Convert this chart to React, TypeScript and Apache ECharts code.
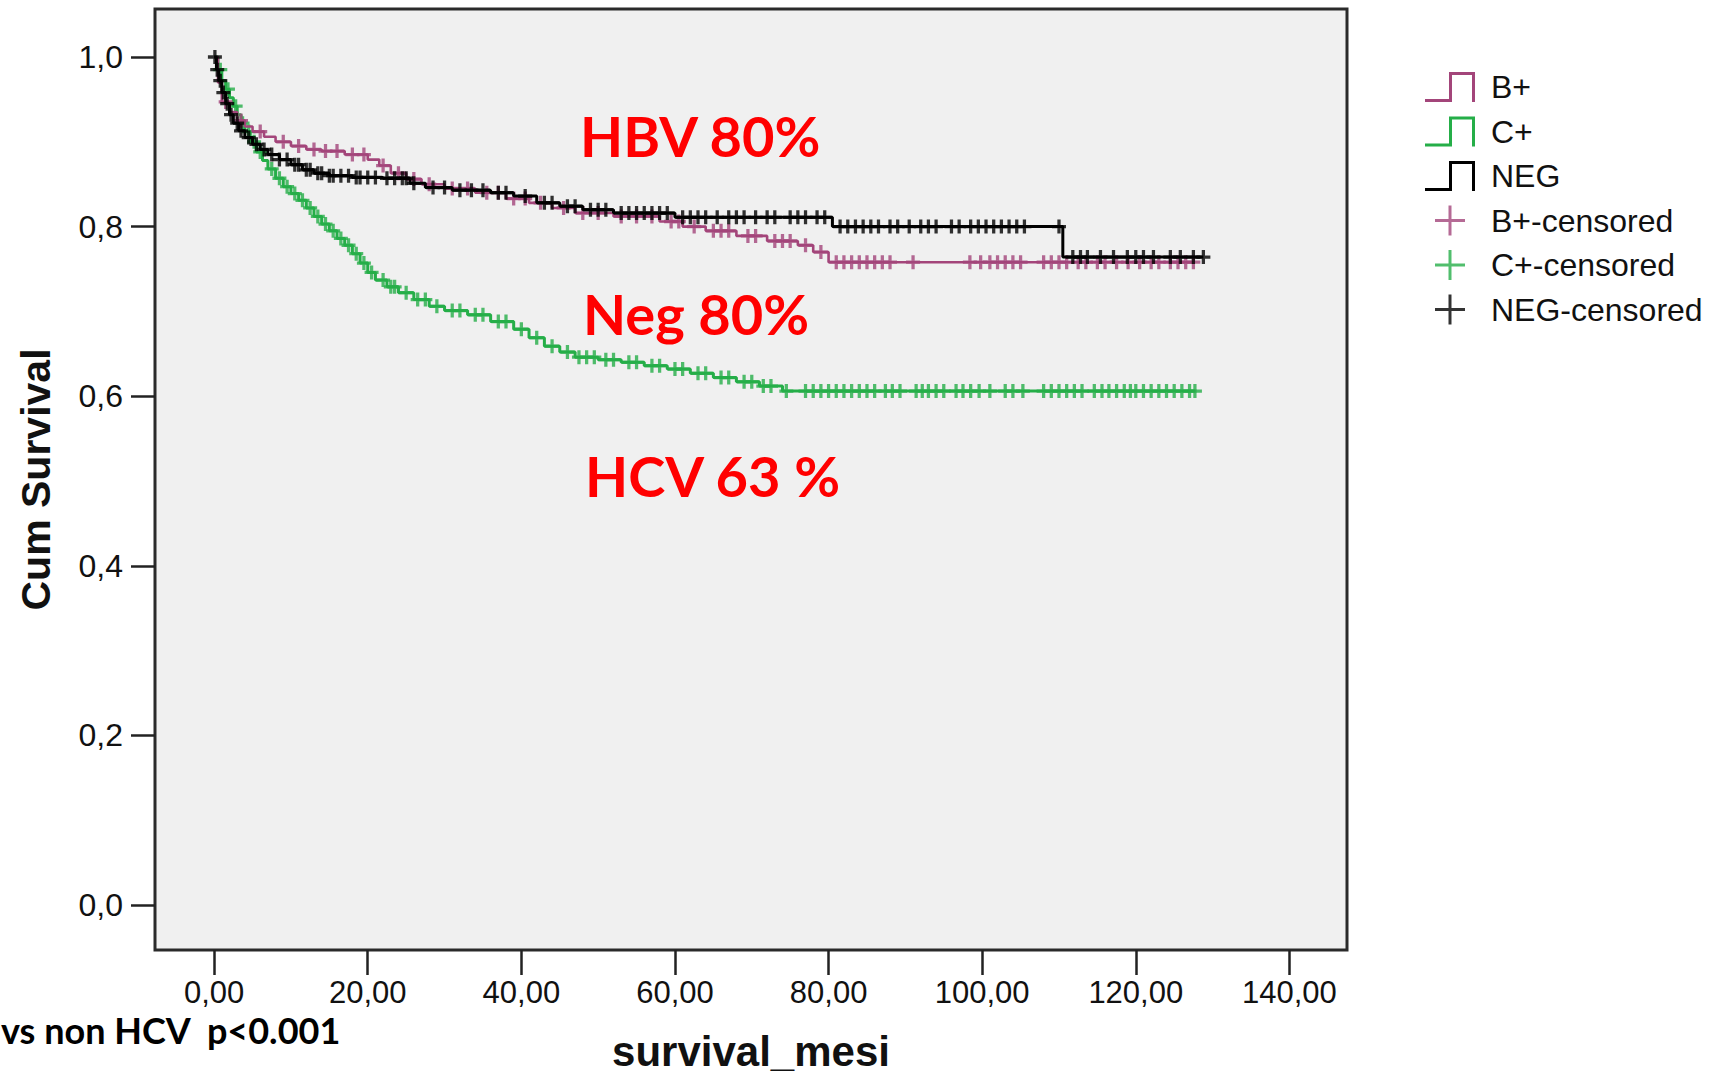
import React, { useEffect, useRef } from 'react';
import * as echarts from 'echarts';

// ---- axis ticks ----
const xTicks = [0, 20, 40, 60, 80, 100, 120, 140];
const yTicks = [0, 0.2, 0.4, 0.6, 0.8, 1.0];

// ---- B+ (HBV) Kaplan-Meier steps ----
const bPlusTimes = [0, 0.5, 1.0, 2.0, 3.0, 4.0, 5.0, 6.5, 8.0, 10, 12, 14, 17, 20, 21.5, 23, 25, 27, 30, 34, 38, 41, 44, 47, 52, 58, 61, 64, 68, 72, 76, 78, 80];
const bPlusSurv = [1.0, 0.97, 0.947, 0.935, 0.925, 0.918, 0.912, 0.906, 0.9, 0.895, 0.891, 0.889, 0.885, 0.879, 0.872, 0.863, 0.856, 0.85, 0.845, 0.84, 0.833, 0.828, 0.822, 0.816, 0.812, 0.806, 0.8, 0.795, 0.789, 0.783, 0.778, 0.77, 0.758];
const bPlusEnd = 127.5;
const bPlusCensored = [1.5, 3.5, 6, 9, 11, 13, 14.5, 16, 18, 19.5, 22, 24, 26, 28, 31, 33, 35.5, 37, 39, 40.5, 42.5, 45.5, 48, 50, 53, 55, 57, 59.5, 60.5, 62.5, 65, 66, 67, 69.5, 70.5, 73, 74, 75, 77, 79, 81, 82, 83, 84, 85, 86, 87, 88, 91, 98.4, 99.8, 101, 102, 103, 104, 105, 108, 109, 110, 111, 112.5, 113.5, 115, 116, 117.5, 119, 120.5, 122, 123, 124.5, 125.5, 126.5, 127.5];

// ---- C+ (HCV) Kaplan-Meier steps ----
const cPlusTimes = [0, 0.5, 1, 1.5, 2, 2.5, 3, 3.5, 4, 4.7, 5.5, 6.3, 7, 8, 9, 10, 11, 12, 13, 14, 15, 16, 17, 18, 19, 20, 21, 22.5, 24, 26, 28, 30, 33, 36, 39, 41, 43, 45, 47, 50, 53, 56, 59, 62, 65, 68, 71, 74];
const cPlusSurv = [1.0, 0.985, 0.972, 0.962, 0.952, 0.942, 0.932, 0.922, 0.912, 0.9, 0.888, 0.878, 0.868, 0.857, 0.847, 0.839, 0.831, 0.822, 0.812, 0.803, 0.795, 0.786, 0.778, 0.768, 0.757, 0.746, 0.737, 0.729, 0.722, 0.714, 0.706, 0.701, 0.696, 0.688, 0.679, 0.669, 0.659, 0.652, 0.646, 0.643, 0.64, 0.636, 0.632, 0.627, 0.622, 0.617, 0.612, 0.606];
const cPlusEnd = 127.7;
const cPlusCensored = [0.8, 1.8, 2.8, 3.7, 4.5, 5.2, 6, 7.5, 8.5, 9.5, 10.5, 11.5, 12.5, 13.5, 14.5, 15.5, 16.5, 17.5, 18.5, 19.5, 20.5, 22, 23, 23.5, 25, 26.5, 27.5, 29, 31, 32, 34, 35, 37, 38, 40, 42, 44, 46, 47.5, 48.5, 49.5, 51, 52, 54, 55, 57, 58, 60, 61, 63, 64, 66, 67, 69, 70, 71.5, 72.5, 74.5, 77, 78, 79, 80, 81, 82, 83, 84, 85, 86, 87.4, 88.3, 89.3, 91.4, 92.2, 93, 94, 95, 96.6, 97.5, 98.5, 99.6, 101, 103, 104, 105.3, 108, 109, 110, 111, 112, 113, 114.6, 115.6, 116.5, 117.5, 118.5, 119.3, 120, 121, 122, 123, 124, 125, 126, 127, 127.7];

// ---- NEG Kaplan-Meier steps ----
const negTimes = [0, 0.3, 0.6, 1.0, 1.5, 2.0, 2.5, 3.2, 4.0, 5.0, 6.0, 7.0, 8.5, 10, 11.5, 13, 15, 18, 22, 25.5, 27.5, 31, 36, 39, 42, 45, 48, 52, 60, 80.5, 110.5];
const negSurv = [1.0, 0.985, 0.972, 0.958, 0.945, 0.932, 0.922, 0.913, 0.905, 0.897, 0.891, 0.885, 0.879, 0.873, 0.867, 0.863, 0.86, 0.858, 0.857, 0.851, 0.846, 0.843, 0.84, 0.836, 0.828, 0.824, 0.82, 0.816, 0.811, 0.8, 0.764];
const negEnd = 128.8;
const negCensored = [0.1, 0.4, 0.8, 1.2, 1.7, 2.2, 3.0, 3.5, 4.5, 5.5, 6.5, 7.5, 8.5, 9.5, 10.5, 11, 12, 12.5, 13.5, 14, 15, 15.5, 16.5, 17.5, 18.5, 19, 20, 21, 22.5, 23.5, 24.5, 25, 26, 28.5, 30, 32, 33.5, 35, 37, 38, 40.5, 43, 44, 46, 47, 49, 50, 51, 53, 54, 55, 56, 57, 58, 59, 61, 62, 63, 64, 65.5, 67, 68, 69, 70.5, 72, 73, 75, 76, 77, 78.5, 79.5, 81.5, 82.5, 83.5, 84.5, 85.5, 86.5, 88, 89, 90.5, 92, 93, 94, 96, 97, 98.5, 99.5, 100.5, 101.5, 102.5, 103.5, 104.5, 105.5, 110, 111.8, 112.8, 113.7, 115.4, 117.1, 118.9, 120, 121, 122.3, 124.5, 125.8, 127.5, 128.8];

const seriesNames = ['B+', 'C+', 'NEG', 'B+-censored', 'C+-censored', 'NEG-censored'];

const PINK = '#A3457A';
const GREEN = '#25AE48';
const BLACK = '#000000';

const PLUS = 'path://M4.6,0 h2.8 v4.6 h4.6 v2.8 h-4.6 v4.6 h-2.8 v-4.6 h-4.6 v-2.8 h4.6 z';
const PLUS_ICON = 'path://M13.5,0 h3 v13.5 h13.5 v3 h-13.5 v13.5 h-3 v-13.5 h-13.5 v-3 h13.5 z';
const STEP = 'path://M0,27 L24,27 L24,0 L50,0 L50,30 L47,30 L47,3 L27,3 L27,30 L0,30 Z';

function stepData(times: number[], surv: number[], end: number) {
  const d = times.map((t, i) => [t, surv[i]]);
  d.push([end, surv[surv.length - 1]]);
  return d;
}

function survAt(times: number[], surv: number[], t: number) {
  let s = surv[0];
  for (let i = 0; i < times.length; i++) {
    if (times[i] <= t) s = surv[i];
  }
  return s;
}

function censData(times: number[], surv: number[], cens: number[]) {
  return cens.map((t) => [t, survAt(times, surv, t)]);
}

export default function App() {
  const ref = useRef<HTMLDivElement>(null);
  useEffect(() => {
    document.body.style.margin = '0';
    const chart = echarts.init(ref.current!, null, { renderer: 'svg' });
    const axisFont = 'Liberation Sans';
    chart.setOption({
      animation: false,
      backgroundColor: '#ffffff',
      grid: {
        left: 155,
        top: 9,
        width: 1192,
        height: 941,
        show: true,
        backgroundColor: '#F0F0F0',
        borderColor: '#2a2a2a',
        borderWidth: 3,
        containLabel: false,
        outerBoundsMode: 'none',
      },
      xAxis: {
        type: 'value',
        min: -7.7,
        max: 147.5,
        axisLine: { show: false, onZero: false },
        splitLine: { show: false },
        axisTick: {
          show: true,
          length: 25,
          customValues: xTicks,
          lineStyle: { color: '#222', width: 2.5 },
        },
        axisLabel: {
          show: true,
          customValues: xTicks,
          margin: 27,
          color: '#111',
          fontSize: 31,
          lineHeight: 31,
          fontFamily: axisFont,
          formatter: (v: number) => v.toFixed(2).replace('.', ','),
        },
        name: 'survival_mesi',
        nameLocation: 'middle',
        nameGap: 82,
        nameTextStyle: { fontSize: 42, lineHeight: 38, fontWeight: 'bold', color: '#111', fontFamily: axisFont },
      },
      yAxis: {
        type: 'value',
        min: -0.0531,
        max: 1.0566,
        axisLine: { show: false, onZero: false },
        splitLine: { show: false },
        axisTick: {
          show: true,
          length: 24,
          customValues: yTicks,
          lineStyle: { color: '#222', width: 2.5 },
        },
        axisLabel: {
          show: true,
          customValues: yTicks,
          margin: 32,
          color: '#111',
          fontSize: 32,
          fontFamily: axisFont,
          formatter: (v: number) => v.toFixed(1).replace('.', ','),
        },
        name: 'Cum Survival',
        nameLocation: 'middle',
        nameRotate: 90,
        nameGap: 99,
        nameTextStyle: { fontSize: 41, fontWeight: 'bold', color: '#111', fontFamily: axisFont },
      },
      legend: {
        orient: 'vertical',
        left: 1425,
        top: 71,
        padding: 0,
        itemWidth: 50,
        itemHeight: 30,
        itemGap: 12.5,
        symbolKeepAspect: true,
        itemStyle: { borderWidth: 0 },
        textStyle: { fontSize: 32, lineHeight: 30, color: '#111', fontFamily: axisFont, padding: [0, 0, 0, 11] },
        data: [
          { name: seriesNames[0], icon: STEP },
          { name: seriesNames[1], icon: STEP },
          { name: seriesNames[2], icon: STEP },
          { name: seriesNames[3], icon: PLUS_ICON },
          { name: seriesNames[4], icon: PLUS_ICON },
          { name: seriesNames[5], icon: PLUS_ICON },
        ],
      },
      graphic: [
        { type: 'text', x: 580, y: 135, style: { text: 'HBV 80%', fill: '#ff0000', font: 'bold 56px Lato', align: 'left', verticalAlign: 'middle' } },
        { type: 'text', x: 583, y: 313, style: { text: 'Neg 80%', fill: '#ff0000', font: 'bold 56px Lato', align: 'left', verticalAlign: 'middle' } },
        { type: 'text', x: 585, y: 475, style: { text: 'HCV 63 %', fill: '#ff0000', font: 'bold 56px Lato', align: 'left', verticalAlign: 'middle' } },
        { type: 'text', x: 1, y: 1030, style: { text: 'vs non HCV  p<0.001', fill: '#000', font: 'bold 36px Lato', align: 'left', verticalAlign: 'middle' } },
      ],
      series: [
        {
          name: seriesNames[1], type: 'line', step: 'end', symbol: 'none', z: 2,
          lineStyle: { color: GREEN, width: 3 }, itemStyle: { color: GREEN },
          data: stepData(cPlusTimes, cPlusSurv, cPlusEnd),
        },
        {
          name: seriesNames[0], type: 'line', step: 'end', symbol: 'none', z: 3,
          lineStyle: { color: PINK, width: 2.6 }, itemStyle: { color: PINK },
          data: stepData(bPlusTimes, bPlusSurv, bPlusEnd),
        },
        {
          name: seriesNames[2], type: 'line', step: 'end', symbol: 'none', z: 4,
          lineStyle: { color: BLACK, width: 3 }, itemStyle: { color: BLACK },
          data: stepData(negTimes, negSurv, negEnd),
        },
        {
          name: seriesNames[4], type: 'scatter', symbol: PLUS, symbolSize: 14, z: 2,
          itemStyle: { color: GREEN },
          data: censData(cPlusTimes, cPlusSurv, cPlusCensored),
        },
        {
          name: seriesNames[3], type: 'scatter', symbol: PLUS, symbolSize: 14, z: 3,
          itemStyle: { color: PINK },
          data: censData(bPlusTimes, bPlusSurv, bPlusCensored),
        },
        {
          name: seriesNames[5], type: 'scatter', symbol: PLUS, symbolSize: 14, z: 4,
          itemStyle: { color: BLACK },
          data: censData(negTimes, negSurv, negCensored),
        },
      ],
    });
    return () => chart.dispose();
  }, []);
  return <div ref={ref} style={{ position: 'fixed', left: 0, top: 0, width: 1713, height: 1074 }} />;
}
